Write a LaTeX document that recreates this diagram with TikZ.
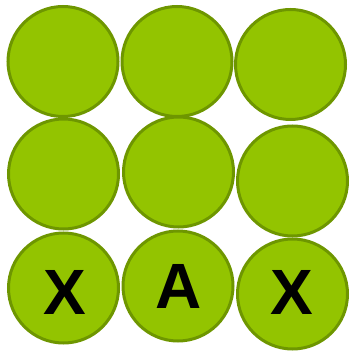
\documentclass[tikz,border=0pt]{standalone}
\usepackage{fontspec}
\setmainfont{Liberation Sans}
\definecolor{ballfill}{HTML}{93C400}
\definecolor{ballline}{HTML}{6E9600}
\tikzset{
  ball/.style={circle, draw=ballline, fill=ballfill, line width=3pt, minimum size=110pt, inner sep=0pt},
  letter/.style={inner sep=0pt, font=\bfseries\fontsize{64}{64}\selectfont, text=black}
}
\begin{document}
\begin{tikzpicture}[x=1pt,y=-1pt]
\useasboundingbox (0,0) rectangle (350,352);
\node[ball] (c11) at (63,61.5) {};
\node[ball] (c12) at (177,61.5) {};
\node[ball] (c13) at (290.5,64.5) {};
\node[ball] (c21) at (63.5,174) {};
\node[ball] (c22) at (178.5,172) {};
\node[ball] (c23) at (292.5,181) {};
\node[ball] (c31) at (63.5,288) {};
\node[ball] (c32) at (178,286) {};
\node[ball] (c33) at (292.5,294) {};
\node[letter] (t1) at (65,292) {X};
\node[letter] (t2) at (178.7,286.5) {A};
\node[letter] (t3) at (291.7,292.7) {X};
\end{tikzpicture}
\end{document}
